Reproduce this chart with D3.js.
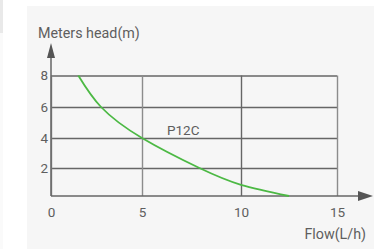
<!DOCTYPE html>
<html>
<head>
<meta charset="utf-8">
<script src="https://d3js.org/d3.v7.min.js"></script>
<style>
  body { margin: 0; background: #fff; }
  svg { display: block; }
  text { font-family: Roboto, "Noto Sans", sans-serif; fill: #5e5e5e; }
</style>
</head>
<body>
<svg id="chart" width="381" height="249"></svg>
<script>
// values
const flowTicks = [0, 5, 10, 15];
const headTicks = [2, 4, 6, 8];
const flow = [1.5, 2.75, 5, 7.9, 10, 12.5];
const head = [8, 6, 4, 2, 0.8, 0];
const curveName = "P12C";

const svg = d3.select("#chart");

// sidebar remnant on the left + panel background
svg.append("rect").attr("x", 0).attr("y", 0).attr("width", 3).attr("height", 33).attr("fill", "#e9e9e9");
svg.append("rect").attr("x", 0).attr("y", 33).attr("width", 3).attr("height", 216).attr("fill", "#fafafa");
svg.append("rect").attr("x", 27).attr("y", 6).attr("width", 347).attr("height", 243).attr("fill", "#f6f6f6");

// the source image has slightly uneven grid spacing
const x = d3.scaleLinear().domain([0, 5, 10, 15]).range([51, 142, 241, 337]);
const y = d3.scaleLinear().domain([0, 2, 4, 6, 8]).range([196, 168, 138, 107, 75.5]);

const g = svg.append("g");

// horizontal grid + y labels
const yAxis = g.append("g")
    .attr("transform", `translate(${x(0)},0)`)
    .call(d3.axisLeft(y).tickValues(headTicks).tickSize(-(x(15) - x(0))).tickPadding(3));
yAxis.select(".domain").remove();
yAxis.selectAll("line").attr("stroke", "#666").attr("stroke-width", 1.4);
yAxis.selectAll("text").attr("font-size", 13.5).attr("fill", "#5e5e5e");

// vertical grid + x labels
const xAxis = g.append("g")
    .attr("transform", `translate(0,${y(0)})`)
    .call(d3.axisBottom(x).tickValues(flowTicks).tickSize(-(y(0) - y(8))).tickPadding(11));
xAxis.select(".domain").remove();
xAxis.selectAll("line").attr("stroke", (d) => d === 10 ? "#666" : "#8c8c8c").attr("stroke-width", 1.4);
xAxis.selectAll("text").attr("font-size", 13.5).attr("fill", "#5e5e5e");

// axis lines with arrows
g.append("line").attr("x1", x(0)).attr("x2", 360).attr("y1", y(0)).attr("y2", y(0))
    .attr("stroke", "#666").attr("stroke-width", 1.5);
g.append("path").attr("d", `M358,${y(0) - 5}L373,${y(0)}L358,${y(0) + 5}Z`).attr("fill", "#555");
g.append("line").attr("x1", x(0)).attr("x2", x(0)).attr("y1", y(0)).attr("y2", 56)
    .attr("stroke", "#666").attr("stroke-width", 1.5);
g.append("path").attr("d", `M${x(0) - 4},58L${x(0)},43L${x(0) + 4},58Z`).attr("fill", "#555");

// pump curve
const pts = flow.map((f, i) => [f, head[i]]);
g.append("path")
    .datum(pts)
    .attr("fill", "none")
    .attr("stroke", "#4cb944")
    .attr("stroke-width", 1.8)
    .attr("d", d3.line().x(d => x(d[0])).y(d => y(d[1])).curve(d3.curveNatural));

g.append("text").attr("x", 167).attr("y", 135).attr("font-size", 13.5).text(curveName);

// axis titles
svg.append("text").attr("x", 38).attr("y", 37.5).attr("font-size", 14.3).text("Meters head(m)");
svg.append("text").attr("x", 366).attr("y", 239).attr("text-anchor", "end").attr("font-size", 14.3).text("Flow(L/h)");
</script>
</body>
</html>
